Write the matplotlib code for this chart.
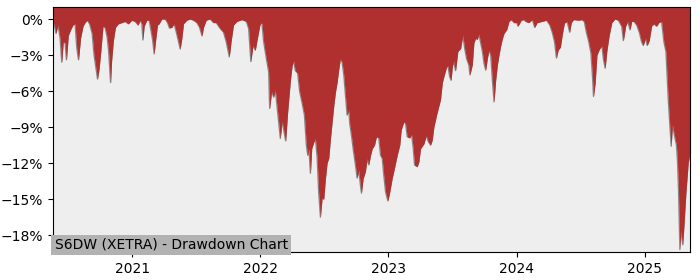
import matplotlib

matplotlib.use("Agg")
import matplotlib.pyplot as plt
from matplotlib.ticker import PercentFormatter

# time in decimal years, drawdown in percent
years = [
    2020.383, 2020.391, 2020.406, 2020.422, 2020.438, 2020.451, 2020.463, 2020.477, 2020.488, 2020.502,
    2020.520, 2020.539, 2020.555, 2020.568, 2020.582, 2020.598, 2020.617, 2020.633, 2020.651, 2020.668,
    2020.688, 2020.703, 2020.719, 2020.730, 2020.742, 2020.755, 2020.773, 2020.789, 2020.805, 2020.816,
    2020.832, 2020.840, 2020.854, 2020.870, 2020.893, 2020.920, 2020.945, 2020.971, 2020.998, 2021.023,
    2021.047, 2021.063, 2021.076, 2021.084, 2021.094, 2021.115, 2021.133, 2021.146, 2021.159, 2021.172,
    2021.182, 2021.198, 2021.211, 2021.232, 2021.258, 2021.276, 2021.291, 2021.310, 2021.328, 2021.349,
    2021.362, 2021.375, 2021.388, 2021.401, 2021.427, 2021.453, 2021.479, 2021.505, 2021.526, 2021.545,
    2021.557, 2021.578, 2021.609, 2021.635, 2021.656, 2021.688, 2021.713, 2021.734, 2021.758, 2021.773,
    2021.791, 2021.818, 2021.857, 2021.891, 2021.909, 2021.926, 2021.943, 2021.961, 2021.974, 2021.995,
    2022.004, 2022.013, 2022.026, 2022.047, 2022.065, 2022.073, 2022.088, 2022.104, 2022.117, 2022.130,
    2022.143, 2022.156, 2022.170, 2022.182, 2022.198, 2022.213, 2022.234, 2022.248, 2022.260, 2022.273,
    2022.291, 2022.307, 2022.326, 2022.344, 2022.359, 2022.370, 2022.379, 2022.391, 2022.401, 2022.416,
    2022.430, 2022.443, 2022.455, 2022.469, 2022.482, 2022.495, 2022.508, 2022.521, 2022.534, 2022.547,
    2022.560, 2022.573, 2022.586, 2022.599, 2022.612, 2022.625, 2022.638, 2022.651, 2022.664, 2022.677,
    2022.690, 2022.698, 2022.711, 2022.724, 2022.742, 2022.755, 2022.768, 2022.781, 2022.789, 2022.802,
    2022.820, 2022.834, 2022.846, 2022.859, 2022.873, 2022.891, 2022.906, 2022.924, 2022.938, 2022.951,
    2022.963, 2022.977, 2022.995, 2023.010, 2023.029, 2023.047, 2023.068, 2023.088, 2023.099, 2023.120,
    2023.133, 2023.146, 2023.166, 2023.180, 2023.193, 2023.203, 2023.224, 2023.237, 2023.250, 2023.276,
    2023.295, 2023.310, 2023.328, 2023.341, 2023.354, 2023.375, 2023.393, 2023.406, 2023.420, 2023.432,
    2023.453, 2023.463, 2023.477, 2023.488, 2023.498, 2023.508, 2023.523, 2023.541, 2023.563, 2023.580,
    2023.594, 2023.609, 2023.627, 2023.635, 2023.654, 2023.666, 2023.680, 2023.693, 2023.705, 2023.719,
    2023.732, 2023.745, 2023.758, 2023.771, 2023.784, 2023.797, 2023.810, 2023.823, 2023.836, 2023.849,
    2023.862, 2023.875, 2023.888, 2023.901, 2023.922, 2023.940, 2023.959, 2023.979, 2024.000, 2024.010,
    2024.036, 2024.057, 2024.070, 2024.095, 2024.122, 2024.140, 2024.160, 2024.199, 2024.233, 2024.258,
    2024.277, 2024.295, 2024.310, 2024.323, 2024.341, 2024.354, 2024.372, 2024.393, 2024.413, 2024.426,
    2024.444, 2024.483, 2024.509, 2024.527, 2024.543, 2024.560, 2024.579, 2024.591, 2024.599, 2024.612,
    2024.626, 2024.646, 2024.664, 2024.677, 2024.690, 2024.703, 2024.721, 2024.742, 2024.767, 2024.793,
    2024.819, 2024.832, 2024.850, 2024.866, 2024.884, 2024.897, 2024.915, 2024.936, 2024.956, 2024.974,
    2024.987, 2025.005, 2025.018, 2025.034, 2025.052, 2025.070, 2025.091, 2025.109, 2025.130, 2025.148,
    2025.164, 2025.182, 2025.198, 2025.205, 2025.215, 2025.227, 2025.246, 2025.254, 2025.262, 2025.268,
    2025.273, 2025.281, 2025.295, 2025.305, 2025.320, 2025.338, 2025.352,
]
drawdown = [
    -0.3, -0.4, -1.2, -0.5, -1.6, -3.6, -1.9, -2.0, -3.4, -1.4,
    -0.9, -0.5, -0.4, -2.4, -3.4, -1.6, -0.6, -0.3, -0.1, -0.4,
    -1.2, -3.0, -4.2, -5.0, -4.2, -2.8, -0.6, -0.7, -1.5, -2.6,
    -5.3, -3.5, -1.8, -0.7, -0.4, -0.3, -0.2, -0.4, -0.1, -0.2,
    -0.5, -0.1, -0.4, -1.75, -0.6, -0.1, -0.1, -0.9, -1.7, -2.9,
    -1.9, -0.5, -0.4, 0.0, 0.0, -0.3, -0.75, -0.7, -0.4, -1.3,
    -1.9, -2.5, -1.6, -0.4, -0.1, 0.0, -0.1, -0.3, -0.7, -1.4,
    -0.7, -0.1, 0.0, -0.3, -0.3, -0.8, -1.1, -1.9, -3.15, -1.8,
    -0.5, -0.2, -0.05, -0.2, -0.8, -3.55, -2.2, -2.6, -1.8, -0.6,
    -0.3, -0.4, -1.9, -3.3, -4.4, -7.45, -6.05, -6.5, -5.9, -7.25,
    -8.55, -9.95, -8.5, -9.2, -10.15, -7.8, -5.2, -3.9, -3.5, -4.3,
    -4.5, -6.05, -7.0, -8.0, -10.5, -11.35, -10.8, -12.85, -10.8, -10.3,
    -9.95, -11.5, -14.4, -16.5, -14.9, -15.0, -13.3, -12.0, -11.6, -10.0,
    -8.6, -7.25, -6.1, -5.3, -4.2, -3.3, -3.6, -4.65, -6.35, -8.0,
    -7.6, -8.75, -9.7, -10.8, -12.15, -13.25, -12.6, -13.85, -14.5, -13.3,
    -12.7, -11.6, -12.15, -11.4, -10.8, -10.5, -9.8, -9.9, -11.35, -11.6,
    -13.0, -14.4, -15.15, -14.4, -13.25, -12.4, -11.35, -10.5, -9.25, -8.55,
    -8.7, -9.8, -9.9, -9.6, -10.8, -12.15, -12.3, -11.9, -10.8, -10.4,
    -9.7, -10.2, -10.5, -10.1, -9.0, -8.0, -7.25, -6.7, -5.3, -4.8,
    -4.0, -3.9, -4.8, -5.1, -4.0, -3.5, -4.3, -2.7, -2.45, -1.35,
    -2.45, -3.3, -3.85, -4.65, -3.8, -2.0, -1.6, -1.7, -1.25, -2.0,
    -2.7, -3.7, -4.25, -3.3, -2.6, -3.0, -5.1, -6.9, -5.1, -3.85,
    -3.0, -2.25, -1.65, -1.2, -0.9, -0.2, -0.05, -0.3, -0.3, -0.6,
    -0.1, -0.05, -0.2, -0.3, -0.05, -0.7, -0.3, -0.2, -0.1, -0.5,
    -1.1, -1.9, -3.25, -2.6, -2.35, -1.4, -0.35, -0.2, -1.1, -0.3,
    -0.05, -0.1, -0.05, -0.2, -1.1, -1.8, -2.85, -4.8, -6.45, -5.35,
    -3.0, -2.5, -2.25, -3.4, -4.1, -2.7, -1.4, -0.3, 0.0, -0.1,
    -0.6, -1.8, -0.6, -0.2, -0.9, -0.2, -0.2, -0.5, -1.1, -1.9,
    -2.2, -1.6, -2.2, -1.8, -0.6, -0.4, -0.6, -0.3, -0.2, -1.9,
    -2.7, -6.7, -9.5, -10.6, -8.8, -9.5, -10.5, -11.8, -14.2, -17.0,
    -19.2, -17.6, -18.8, -17.2, -14.5, -12.0, -11.2,
]
year_ticks = [2021, 2022, 2023, 2024, 2025]
pct_ticks = [0, -3, -6, -9, -12, -15, -18]
title = "S6DW (XETRA) - Drawdown Chart"

Y_TOP = 1.0
Y_BOTTOM = -19.4

fig = plt.figure(figsize=(7.0, 2.8), dpi=100)
ax = fig.add_axes([0.0757, 0.1, 0.91, 0.875])
ax.set_facecolor("#EEEEEE")

ax.plot(years, drawdown, color="#8a8a8a", linewidth=0.9, zorder=1)
ax.fill_between(years, drawdown, Y_TOP, color="#B03030", linewidth=0, zorder=2)

ax.set_xlim(years[0], years[-1])
ax.set_ylim(Y_BOTTOM, Y_TOP)
ax.set_xticks(year_ticks)
ax.set_xticklabels([str(y) for y in year_ticks])
ax.set_yticks(pct_ticks)
ax.yaxis.set_major_formatter(PercentFormatter(decimals=0))
ax.tick_params(labelsize=10)

ax.text(
    0.003, 0.0, title,
    transform=ax.transAxes, ha="left", va="bottom", fontsize=10, color="black",
    bbox=dict(facecolor="#B2B2B2", edgecolor="none", pad=2.5),
    zorder=5,
)

fig.savefig("out.png", dpi=100)
